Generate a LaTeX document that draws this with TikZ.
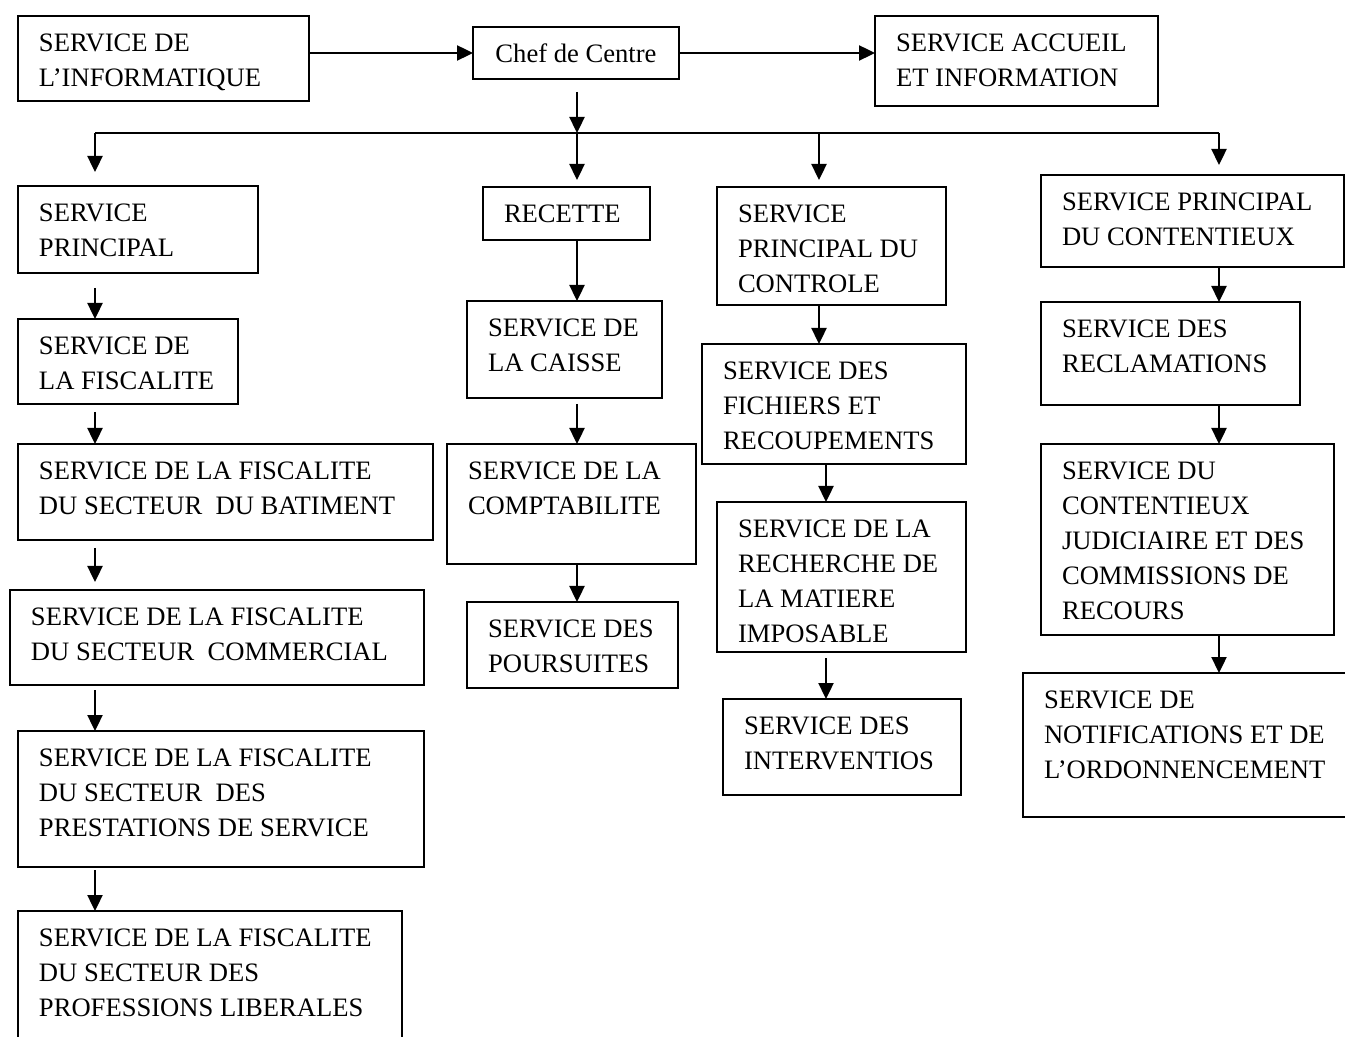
\documentclass[tikz,border=0pt]{standalone}
\usepackage{fontspec}
\setmainfont{Liberation Serif}
\usetikzlibrary{arrows.meta}

\begin{document}
\begin{tikzpicture}[x=0.5pt,y=-0.5pt,
  font=\fontsize{13.3}{17.5}\selectfont,
  boite/.style 2 args={draw,line width=0.8pt,anchor=north west,inner sep=0pt,outer sep=0pt,
    minimum width=#1*0.5pt,minimum height=#2*0.5pt},
  texte/.style={anchor=north west,align=left,inner sep=0pt,outer sep=0pt,
    xshift=10.5pt,yshift=-9pt},
  fleche/.style={line width=1.2pt,-{Triangle[length=8pt,width=7.5pt]}}]
\clip (0,0) rectangle (1345,1037);

% haut
\node[boite={291}{85},label={[texte]north west:SERVICE DE\\L’INFORMATIQUE}] (info) at (18,16) {};
\node[boite={206}{52}] (chef) at (473,27) {Chef de Centre};
\node[boite={283}{90},label={[texte]north west:SERVICE ACCUEIL\\ET INFORMATION}] (accueil) at (875,16) {};

% colonnes
\coordinate (colG) at (95,133);
\coordinate (colR) at (577,133);
\coordinate (colC) at (819,133);
\coordinate (colCb) at (826,133);
\coordinate (colD) at (1219,133);

% colonne gauche
\node[boite={240}{87},label={[texte]north west:SERVICE\\PRINCIPAL}] (sp) at (18,186) {};
\node[boite={220}{85},label={[texte]north west:SERVICE DE\\LA FISCALITE}] (fisc) at (18,319) {};
\node[boite={415}{96},label={[texte]north west:SERVICE DE LA FISCALITE\\DU SECTEUR~ DU BATIMENT}] (bat) at (18,444) {};
\node[boite={414}{95},label={[texte]north west:SERVICE DE LA FISCALITE\\DU SECTEUR~ COMMERCIAL}] (com) at (10,590) {};
\node[boite={406}{136},label={[texte]north west:SERVICE DE LA FISCALITE\\DU SECTEUR~ DES\\PRESTATIONS DE SERVICE}] (prest) at (18,731) {};
\node[boite={384}{160},label={[texte]north west:SERVICE DE LA FISCALITE\\DU SECTEUR DES\\PROFESSIONS LIBERALES}] (lib) at (18,911) {};

% recette
\node[boite={167}{53},label={[texte]north west:RECETTE}] (recette) at (483,187) {};
\node[boite={195}{97},label={[texte]north west:SERVICE DE\\LA CAISSE}] (caisse) at (467,301) {};
\node[boite={249}{120},label={[texte]north west:SERVICE DE LA\\COMPTABILITE}] (compta) at (447,444) {};
\node[boite={211}{86},label={[texte]north west:SERVICE DES\\POURSUITES}] (pours) at (467,602) {};

% controle
\node[boite={229}{118},label={[texte]north west:SERVICE\\PRINCIPAL DU\\CONTROLE}] (spc) at (717,187) {};
\node[boite={264}{120},label={[texte]north west:SERVICE DES\\FICHIERS ET\\RECOUPEMENTS}] (fich) at (702,344) {};
\node[boite={249}{150},label={[texte]north west:SERVICE DE LA\\RECHERCHE DE\\LA MATIERE\\IMPOSABLE}] (rech) at (717,502) {};
\node[boite={238}{96},label={[texte]north west:SERVICE DES\\INTERVENTIOS}] (interv) at (723,699) {};

% contentieux
\node[boite={303}{92},label={[texte]north west:SERVICE PRINCIPAL\\DU CONTENTIEUX}] (spcont) at (1041,175) {};
\node[boite={259}{103},label={[texte]north west:SERVICE DES\\RECLAMATIONS}] (recl) at (1041,302) {};
\node[boite={293}{191},label={[texte]north west:SERVICE DU\\CONTENTIEUX\\JUDICIAIRE ET DES\\COMMISSIONS DE\\RECOURS}] (jud) at (1041,444) {};
\node[boite={360}{144},label={[texte]north west:SERVICE DE\\NOTIFICATIONS ET DE\\L’ORDONNENCEMENT}] (notif) at (1023,673) {};

% liaisons
\draw[fleche] (info.east |- chef.west) -- (chef.west);
\draw[fleche] (chef.east) -- (accueil.west |- chef.east);
\draw[fleche,shorten <=6.5pt] (chef.south -| colR) -- (colR);
\draw[line width=0.9pt] (colG) -- (colD);
\draw[fleche,shorten >=7pt] (colG) -- (sp.north -| colG);
\draw[fleche,shorten >=3.5pt] (colR) -- (recette.north -| colR);
\draw[fleche,shorten >=3.5pt] (colC) -- (spc.north -| colC);
\draw[fleche,shorten >=5pt] (colD) -- (spcont.north -| colD);

\draw[fleche,shorten <=7.5pt] (sp.south -| colG) -- (fisc.north -| colG);
\draw[fleche,shorten <=4pt] (fisc.south -| colG) -- (bat.north -| colG);
\draw[fleche,shorten <=4pt,shorten >=4pt] (bat.south -| colG) -- (com.north -| colG);
\draw[fleche,shorten <=2.5pt] (com.south -| colG) -- (prest.north -| colG);
\draw[fleche,shorten <=1.5pt] (prest.south -| colG) -- (lib.north -| colG);

\draw[fleche] (recette.south -| colR) -- (caisse.north -| colR);
\draw[fleche,shorten <=3pt] (caisse.south -| colR) -- (compta.north -| colR);
\draw[fleche] (compta.south -| colR) -- (pours.north -| colR);

\draw[fleche] (spc.south -| colC) -- (fich.north -| colC);
\draw[fleche] (fich.south -| colCb) -- (rech.north -| colCb);
\draw[fleche,shorten <=3pt] (rech.south -| colCb) -- (interv.north -| colCb);

\draw[fleche] (spcont.south -| colD) -- (recl.north -| colD);
\draw[fleche] (recl.south -| colD) -- (jud.north -| colD);
\draw[fleche] (jud.south -| colD) -- (notif.north -| colD);
\end{tikzpicture}
\end{document}
